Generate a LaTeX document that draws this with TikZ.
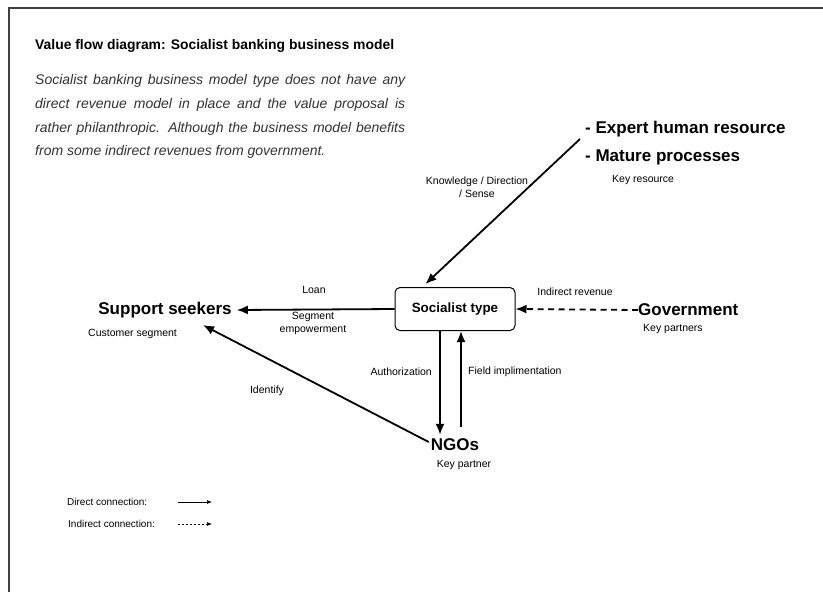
\documentclass[tikz,border=0pt]{standalone}
\usepackage{fontspec}
\setmainfont{Liberation Sans}
\usetikzlibrary{arrows.meta,calc}

\begin{document}
\begin{tikzpicture}[x=1pt,y=-1pt,
	big/.style={font=\fontsize{17}{20}\selectfont\bfseries, inner sep=0pt},
	small/.style={font=\fontsize{10.5}{13}\selectfont, inner sep=0pt, align=center},
	introline/.style={anchor=west, inner sep=0pt, font=\fontsize{14}{16}\selectfont\itshape, text=black!80},
	flow/.style={line width=1.8pt, -{Latex[length=11pt,width=9pt]}},
	iflow/.style={flow, dash pattern=on 6pt off 4.5pt}]
	
	\useasboundingbox (0,0) rectangle (823,592);
	\draw[line width=2pt, black!75] (9,592) -- (9,8) -- (823,8);
	
	% heading and text
	\node[anchor=west, inner sep=0pt, font=\fontsize{13.9}{15}\selectfont\bfseries] (title) at (35,46) {Value flow diagram: Socialist banking business model};
	\node[introline] (intro1) at (35,81) {\makebox[370pt][s]{Socialist banking business model type does not have any}};
	\node[introline] (intro2) at (35,105) {\makebox[370pt][s]{direct revenue model in place and the value proposal is}};
	\node[introline] (intro3) at (35,129) {\makebox[370pt][s]{rather philanthropic. Although the business model benefits}};
	\node[introline] (intro4) at (35,152) {from some indirect revenues from government.};
	
	% nodes
	\node[draw, line width=1pt, rounded corners=5pt, minimum width=120pt, minimum height=43pt, font=\fontsize{13.4}{15}\selectfont\bfseries] (soc) at (455,309) {Socialist type};
	\node[big, anchor=west] (expert) at (585,129) {- Expert human resource};
	\node[big, anchor=west] (mature) at (585,157) {- Mature processes};
	\node[small, anchor=west] (keyres) at (612,180) {Key resource};
	\node[big] (seekers) at (165,310) {Support seekers};
	\node[small, anchor=west] (custseg) at (88,334) {Customer segment};
	\node[big, anchor=west] (gov) at (638,310) {Government};
	\node[small, anchor=west] (keyps) at (643,329) {Key partners};
	\node[big] (ngo) at (455,445) {NGOs};
	\node[small] (keyp) at (464,465) {Key partner};
	
	\coordinate (expstart) at (580,139);
	
	% connectors
	\draw[flow] (expstart) -- ($(soc.north west)+(31,-3)$);
	\draw[flow] (soc.west) -- ($(seekers.east)+(5,0)$);
	\draw[iflow] (gov.west) -- (soc.east);
	\draw[flow] ($(soc.south)+(-15,0)$) -- ($(ngo.north)+(-15,-4)$);
	\draw[line width=1.8pt, {Latex[length=11pt,width=9pt]}-] ($(soc.south)+(6,0)$) -- ($(ngo.north)+(6,-12)$);
	\draw[flow] ($(ngo.west)+(-2,-3)$) -- ($(seekers.south)+(38,7)$);
	
	% labels
	\node[small] (know) at (477,187) {Knowledge / Direction\\/ Sense};
	\node[small] (loan) at (314,290) {Loan};
	\node[small] (segemp) at (313,323) {Segment\\empowerment};
	\node[small] (indrev) at (575,292) {Indirect revenue};
	\node[small, anchor=east] (auth) at (432,372) {Authorization};
	\node[small, anchor=west] (field) at (468,372) {Field implimentation};
	\node[small] (ident) at (267,391) {Identify};
	
	% legend
	\node[small, anchor=west, font=\fontsize{10}{12}\selectfont] (ldirect) at (67,502) {Direct connection:};
	\node[small, anchor=west, font=\fontsize{10}{12}\selectfont] (lindirect) at (68,524) {Indirect connection:};
	\coordinate (d1) at (178,502);
	\coordinate (d2) at (212,502);
	\coordinate (i1) at (178,524);
	\coordinate (i2) at (212,524);
	\draw[line width=0.7pt, -{Latex[length=5pt,width=4pt]}] (d1) -- (d2);
	\draw[line width=0.7pt, dash pattern=on 2pt off 2pt, -{Latex[length=5pt,width=4pt]}] (i1) -- (i2);
	
\end{tikzpicture}
\end{document}
